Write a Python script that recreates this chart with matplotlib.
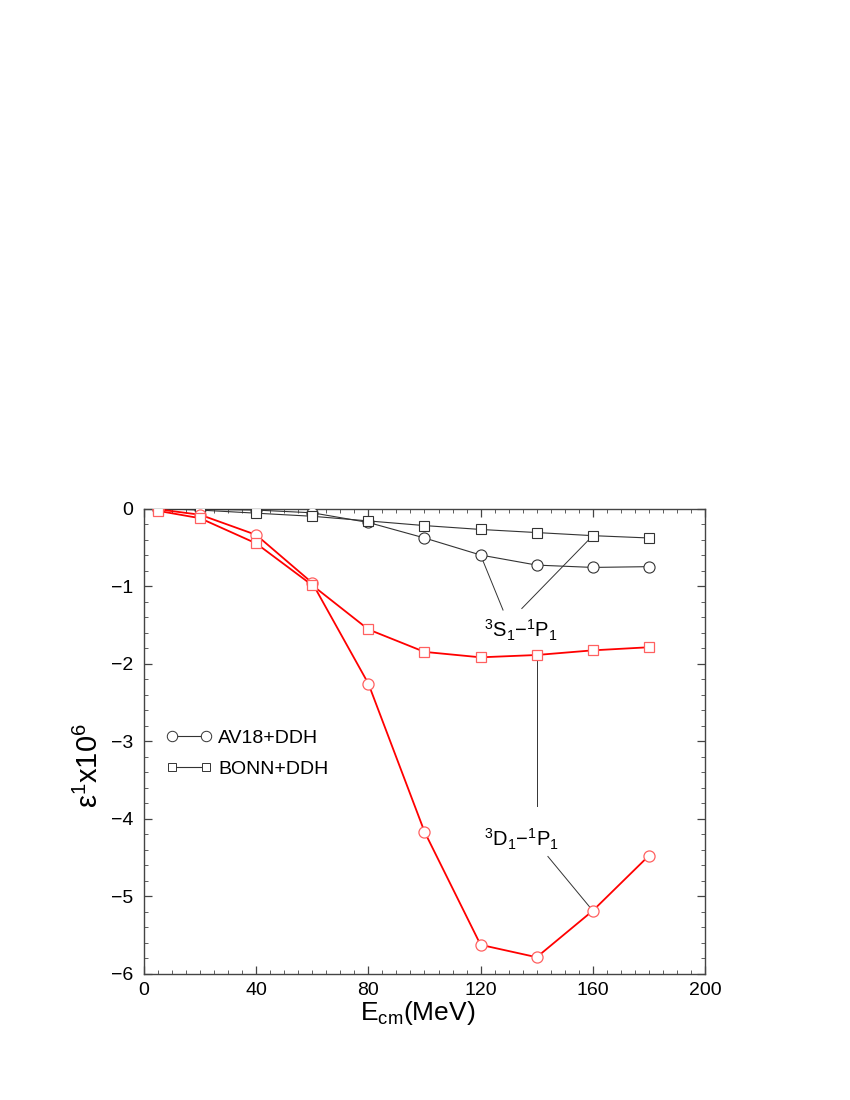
import numpy as np
import matplotlib
matplotlib.use('Agg')
from matplotlib import pyplot as plt
from matplotlib.lines import Line2D

plt.rcParams['font.family'] = ['Liberation Sans', 'DejaVu Sans']
plt.rcParams['mathtext.fontset'] = 'custom'
plt.rcParams['mathtext.rm'] = 'Liberation Sans'
plt.rcParams['mathtext.it'] = 'Liberation Sans:italic'
plt.rcParams['mathtext.default'] = 'regular'

# Energies (MeV)
energy = [5, 20, 40, 60, 80, 100, 120, 140, 160, 180]

# 3S1-1P1 mixing (x1e-6)
av18_3s1 = [0.0, -0.01, -0.02, -0.055, -0.18, -0.38, -0.60, -0.73, -0.76, -0.75]
bonn_3s1 = [0.0, -0.02, -0.06, -0.10, -0.16, -0.22, -0.27, -0.31, -0.35, -0.38]

# 3D1-1P1 mixing (x1e-6)
av18_3d1 = [-0.01, -0.08, -0.34, -0.96, -2.26, -4.17, -5.63, -5.79, -5.19, -4.48]
bonn_3d1 = [-0.03, -0.125, -0.45, -0.99, -1.56, -1.85, -1.92, -1.89, -1.83, -1.79]

xticks = [0, 40, 80, 120, 160, 200]
yticks = [0, -1, -2, -3, -4, -5, -6]

fig = plt.figure(figsize=(8.5, 11), dpi=100)
ax = fig.add_axes([0.1694, 0.115, 0.66, 0.4227])

dark = '#333333'
# black curves (3S1-1P1)
ax.plot(energy, av18_3s1, color=dark, lw=0.8, marker='o', ms=8,
        mfc='white', mec=dark, mew=0.8, zorder=3)
ax.plot(energy, bonn_3s1, color=dark, lw=0.8, marker='s', ms=6.5,
        mfc='white', mec=dark, mew=0.8, zorder=3)

# red curves (3D1-1P1)
ax.plot(energy, av18_3d1, color='red', lw=1.3, marker='o', ms=8,
        mfc='white', mec='#ff6060', mew=0.9, zorder=4)
ax.plot(energy, bonn_3d1, color='red', lw=1.3, marker='s', ms=6.5,
        mfc='white', mec='#ff6060', mew=0.9, zorder=4)

# annotations
ax.plot([energy[6], 128.0], [av18_3s1[6], -1.31], color=dark, lw=0.7, zorder=2)
ax.plot([energy[8], 134.7], [bonn_3s1[8], -1.29], color=dark, lw=0.7, zorder=2)
ax.text(134.5, -1.57, r'$^3$S$_1$$-$$^1$P$_1$', fontsize=14.5, ha='center', va='center')

ax.plot([energy[7], energy[7]], [bonn_3d1[7], -3.84], color=dark, lw=0.7, zorder=2)
ax.plot([144.0, energy[8]], [-4.49, av18_3d1[8]], color=dark, lw=0.7, zorder=2)
ax.text(134.5, -4.27, r'$^3$D$_1$$-$$^1$P$_1$', fontsize=14.5, ha='center', va='center')

# legend
handles = [
    Line2D([], [], color=dark, lw=0.8, marker='o', ms=7.5, mfc='white',
           mec=dark, mew=0.7),
    Line2D([], [], color=dark, lw=0.8, marker='s', ms=6, mfc='white',
           mec=dark, mew=0.7),
]
ax.legend(handles, ['AV18+DDH', 'BONN+DDH'], numpoints=2, frameon=False,
          loc='upper left', bbox_to_anchor=(0.04, 0.525), borderaxespad=0,
          borderpad=0, handlelength=2.35, handletextpad=0.3, labelspacing=0.7,
          fontsize=14)

ax.set_xlim(0, 200)
ax.set_ylim(-6, 0)
ax.set_xticks(xticks)
ax.set_yticks(yticks)
ax.set_xticks(np.arange(0, 201, 5), minor=True)
ax.set_yticks(np.arange(-6, 0.01, 0.2), minor=True)
ax.tick_params(which='both', direction='in', top=True, right=True, labelsize=14,
               color='#444444')
ax.tick_params(axis='x', which='major', pad=6)
ax.tick_params(axis='y', which='major', pad=8)
ax.tick_params(which='major', length=6, width=0.9)
ax.tick_params(which='minor', length=3, width=0.6)
for s in ax.spines.values():
    s.set_color('#444444')
    s.set_linewidth(1.0)

ax.set_xlabel(r'E$_{cm}$(MeV)', fontsize=19)
ax.set_ylabel(r'ε$^1$x10$^6$', fontsize=21)
ax.xaxis.set_label_coords(0.488, -0.055)
ax.yaxis.set_label_coords(-0.071, 0.448)

fig.savefig('out.png', dpi=100)
